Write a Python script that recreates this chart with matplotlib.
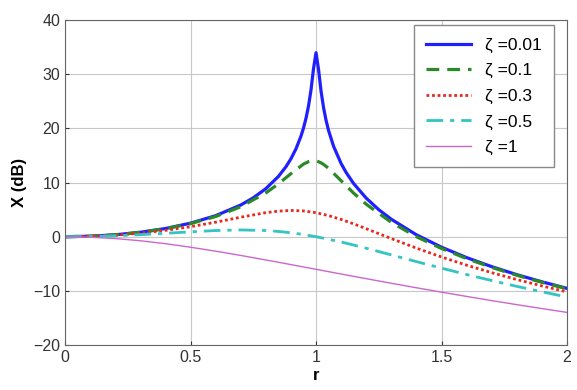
import numpy as np
import matplotlib
matplotlib.use("Agg")
import matplotlib.pyplot as plt

plt.rcParams['font.family'] = ['Liberation Sans', 'DejaVu Sans']

# frequency ratio, dense near resonance for the lightly damped curves
r_001 = [0, 0.1, 0.2, 0.3, 0.4, 0.5, 0.6, 0.7, 0.75, 0.8, 0.85, 0.88, 0.9, 0.92, 0.94, 0.95, 0.96,
         0.97, 0.98, 0.99, 1.0, 1.01, 1.02, 1.03, 1.04, 1.05, 1.07, 1.1, 1.12, 1.15, 1.2, 1.25,
         1.3, 1.4, 1.5, 1.6, 1.7, 1.8, 1.9, 2.0]
r_fine = [0, 0.1, 0.2, 0.3, 0.4, 0.5, 0.6, 0.7, 0.8, 0.85, 0.9, 0.95, 0.97, 0.98, 0.99,
          1.0, 1.01, 1.02, 1.03, 1.05, 1.1, 1.15, 1.2, 1.3, 1.4, 1.5, 1.6, 1.7, 1.8, 1.9, 2.0]
r_wide = [0, 0.1, 0.2, 0.3, 0.4, 0.5, 0.6, 0.7, 0.8, 0.85, 0.9, 0.95,
          1.0, 1.05, 1.1, 1.15, 1.2, 1.3, 1.4, 1.5, 1.6, 1.7, 1.8, 1.9, 2.0]

# amplitude in dB
x_001 = [0, 0.09, 0.35, 0.82, 1.51, 2.50, 3.88, 5.85, 7.18, 8.87, 11.12, 12.91, 14.39, 16.21, 18.57,
         20.06, 21.86, 24.12, 27.10, 31.03, 33.98, 30.90, 26.89, 23.84, 21.49, 19.61, 16.69, 13.51,
         11.86, 9.81, 7.12, 4.99, 3.22, 0.35, -1.94, -3.86, -5.53, -7.01, -8.33, -9.54]
x_01 = [0, 0.09, 0.35, 0.80, 1.48, 2.42, 3.73, 5.53, 8.09, 9.75, 11.64, 13.41, 13.86, 13.98, 14.02,
        13.98, 13.85, 13.64, 13.36, 12.63, 10.34, 8.04, 6.00, 2.65, 0.00, -2.18, -4.04, -5.67, -7.12, -8.42, -9.62]
x_03 = [0, 0.07, 0.29, 0.65, 1.17, 1.85, 2.68, 3.60, 4.44, 4.72, 4.85, 4.76,
        4.44, 3.90, 3.19, 2.37, 1.48, -0.35, -2.11, -3.75, -5.26, -6.64, -7.91, -9.09, -10.19]
x_05 = [0, 0.04, 0.17, 0.37, 0.63, 0.90, 1.14, 1.25, 1.14, 0.97, 0.73, 0.40,
        0, -0.47, -0.98, -1.54, -2.13, -3.36, -4.60, -5.81, -6.98, -8.10, -9.17, -10.18, -11.14]
x_1 = [0, -0.09, -0.34, -0.75, -1.29, -1.94, -2.67, -3.46, -4.30, -4.72, -5.15, -5.59,
       -6.02, -6.46, -6.89, -7.32, -7.75, -8.60, -9.43, -10.24, -11.03, -11.80, -12.55, -13.27, -13.98]

fig = plt.figure(figsize=(5.77, 3.90), dpi=100)
ax = fig.add_axes([0.1127, 0.1154, 0.87, 0.833])

ax.plot(r_001, x_001, color='#1f1fff', lw=2.3, label='ζ =0.01')
ax.plot(r_fine, x_01, color='#2a8a2a', lw=2.3, ls=(0, (4, 2.5)), label='ζ =0.1')
ax.plot(r_wide, x_03, color='#e8281e', lw=2.0, ls=(0, (1, 1)), label='ζ =0.3')
ax.plot(r_wide, x_05, color='#33c4c4', lw=2.0, ls=(0, (6, 2.5, 1.5, 2.5)), label='ζ =0.5')
ax.plot(r_wide, x_1, color='#cc66cc', lw=1.0, label='ζ =1')

ax.set_xlim(0, 2)
ax.set_ylim(-20, 40)
ax.set_xticks([0, 0.5, 1, 1.5, 2])
ax.set_xticklabels(['0', '0.5', '1', '1.5', '2'])
ax.set_yticks(range(-20, 41, 10))
ax.grid(True, color='#c8c8c8', lw=0.8)
ax.tick_params(labelsize=11.5, colors='#333333', direction='in', length=3)
for s in ax.spines.values():
    s.set_color('#666666')

ax.set_xlabel('r', fontsize=12, fontweight='bold', labelpad=2)
ax.set_ylabel('X (dB)', fontsize=12, fontweight='bold', labelpad=4)

leg = ax.legend(loc='upper right', fontsize=12.5, fancybox=False, edgecolor='#888888',
                framealpha=1, handlelength=2.6, borderpad=0.7, labelspacing=0.6,
                borderaxespad=0.3, bbox_to_anchor=(0.985, 1.0))

fig.savefig('out.png', dpi=100)
